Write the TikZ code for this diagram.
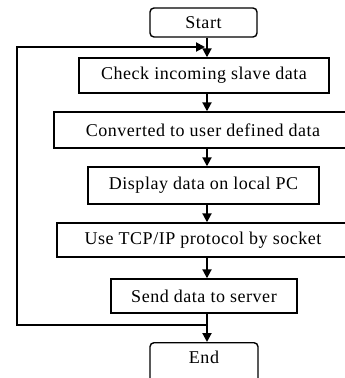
\documentclass[tikz,border=0pt]{standalone}
\usepackage{fontspec}
\setmainfont{Liberation Serif}[LetterSpace=3]
\usetikzlibrary{arrows.meta,calc}
\begin{document}
\begin{tikzpicture}[x=1pt,y=-1pt,
  stepbox/.style={draw,line width=1.4pt,inner sep=0pt,font=\fontsize{18}{20}\selectfont},
  termbox/.style={stepbox,rounded corners=4pt},
  flow/.style={line width=2pt,-{Triangle[width=9pt,length=9pt]}},
  loopline/.style={line width=2pt}]
\useasboundingbox (0,0) rectangle (345,378);
% process boxes, centre positions and sizes
\node[termbox,minimum width=107pt,minimum height=29pt] (start) at (203.5,22.5) {Start};
\node[stepbox,minimum width=250pt,minimum height=35pt] (check) at (204,75.5) {Check incoming slave data};
\node[stepbox,minimum width=298pt,minimum height=36pt] (conv) at (203,130) {Converted to user defined data};
\node[stepbox,minimum width=231pt,minimum height=37pt] (disp) at (203.5,185.5) {Display data on local PC};
\node[stepbox,minimum width=292pt,minimum height=34pt] (tcp) at (203,240) {Use TCP/IP protocol by socket};
\node[stepbox,minimum width=186pt,minimum height=34pt] (send) at (204,296) {Send data to server};
\node[termbox,minimum width=108pt,minimum height=40pt,anchor=north] (end) at (204,342) {};
\node[font=\fontsize{18}{20}\selectfont] (endtxt) at (204,357) {End};
% main column of arrows
\coordinate (col) at (207,0);
\draw[flow] (start.south -| col) -- (check.north -| col);
\draw[flow] (check.south -| col) -- (conv.north -| col);
\draw[flow] (conv.south -| col) -- (disp.north -| col);
\draw[flow] (disp.south -| col) -- (tcp.north -| col);
\draw[flow] (tcp.south -| col) -- (send.north -| col);
\draw[flow] (send.south -| col) -- (end.north -| col);
% feedback loop back to the first step
\coordinate (jbot) at (207,325);
\coordinate (jtop) at (205,47);
\draw[loopline,-{Triangle[width=9pt,length=9pt]}] (jbot) -- (17,325) -- (17,47) -- (jtop);
\end{tikzpicture}
\end{document}
